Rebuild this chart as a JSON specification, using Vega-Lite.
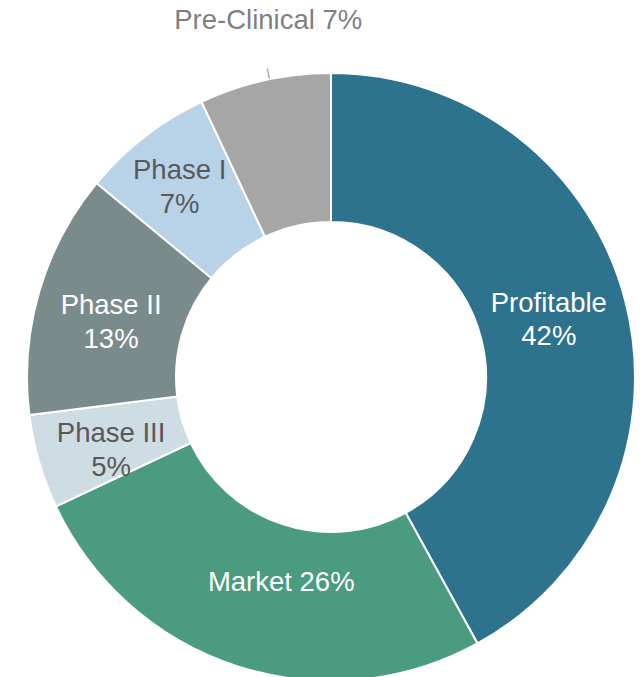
{
  "$schema": "https://vega.github.io/schema/vega-lite/v6.json",
  "width": 600,
  "height": 600,
  "autosize": {"type": "none"},
  "padding": {"left": 31, "top": 77, "right": 13, "bottom": 0},
  "background": "white",
  "config": {"view": {"stroke": null}, "font": "Liberation Sans"},
  "data": {
    "values": [
      {"cat": "Profitable", "value": 42, "order": 1, "label": "Profitable\n42%"},
      {"cat": "Market", "value": 26, "order": 2, "label": "Market 26%"},
      {"cat": "Phase III", "value": 5, "order": 3, "label": "Phase III\n5%"},
      {"cat": "Phase II", "value": 13, "order": 4, "label": "Phase II\n13%"},
      {"cat": "Phase I", "value": 7, "order": 5, "label": "Phase I\n7%"},
      {"cat": "Pre-Clinical", "value": 7, "order": 6, "label": "Pre-Clinical 7%"}
    ]
  },
  "encoding": {
    "theta": {"field": "value", "type": "quantitative", "stack": true},
    "order": {"field": "order", "type": "quantitative"}
  },
  "layer": [
    {
      "mark": {"type": "arc", "radius": 304, "radius2": 155, "stroke": "white", "strokeWidth": 2},
      "encoding": {
        "color": {
          "field": "cat", "type": "nominal", "legend": null,
          "scale": {
            "domain": ["Profitable", "Market", "Phase III", "Phase II", "Phase I", "Pre-Clinical"],
            "range": ["#2e738e", "#4a9b80", "#cedce4", "#7a8b8b", "#b8d3e8", "#a6a6a6"]
          }
        }
      }
    },
    {
      "mark": {"type": "text", "radius": 229, "fontSize": 27.5, "lineBreak": "\n", "lineHeight": 33, "dx": -4, "dy": -16, "baseline": "middle", "align": "center", "color": "#ffffff"},
      "encoding": {
        "text": {"condition": {"test": "datum.cat === 'Profitable'", "field": "label"}, "value": ""}
      }
    },
    {
      "mark": {"type": "text", "radius": 229, "fontSize": 27.5, "lineBreak": "\n", "lineHeight": 34, "dy": -7, "baseline": "middle", "align": "center", "color": "#ffffff"},
      "encoding": {
        "text": {"condition": {"test": "datum.cat === 'Phase II'", "field": "label"}, "value": ""}
      }
    },
    {
      "mark": {"type": "text", "radius": 229, "fontSize": 27.5, "lineBreak": "\n", "lineHeight": 34, "dy": -7, "baseline": "middle", "align": "center", "color": "#595959"},
      "encoding": {
        "text": {"condition": {"test": "datum.cat === 'Phase III'", "field": "label"}, "value": ""}
      }
    },
    {
      "mark": {"type": "text", "radius": 229, "fontSize": 27.5, "lineBreak": "\n", "lineHeight": 34, "dx": -11, "dy": -25, "baseline": "middle", "align": "center", "color": "#595959"},
      "encoding": {
        "text": {"condition": {"test": "datum.cat === 'Phase I'", "field": "label"}, "value": ""}
      }
    },
    {
      "mark": {"type": "text", "radius": 229, "fontSize": 27.5, "dx": 21, "dy": -12, "baseline": "middle", "align": "center", "color": "#ffffff"},
      "encoding": {
        "text": {"condition": {"test": "datum.cat === 'Market'", "field": "label"}, "value": ""}
      }
    },
    {
      "mark": {"type": "text", "radius": 361, "fontSize": 27.5, "dx": 16, "dy": -4, "baseline": "middle", "align": "center", "color": "#7f7f7f"},
      "encoding": {
        "text": {"condition": {"test": "datum.cat === 'Pre-Clinical'", "field": "label"}, "value": ""}
      }
    },
    {
      "mark": {"type": "text", "radius": 310, "fontSize": 11, "angle": -12, "dx": 5, "baseline": "middle", "align": "center", "color": "#7f7f7f"},
      "encoding": {
        "text": {"condition": {"test": "datum.cat === 'Pre-Clinical'", "value": "|"}, "value": ""}
      }
    }
  ]
}
